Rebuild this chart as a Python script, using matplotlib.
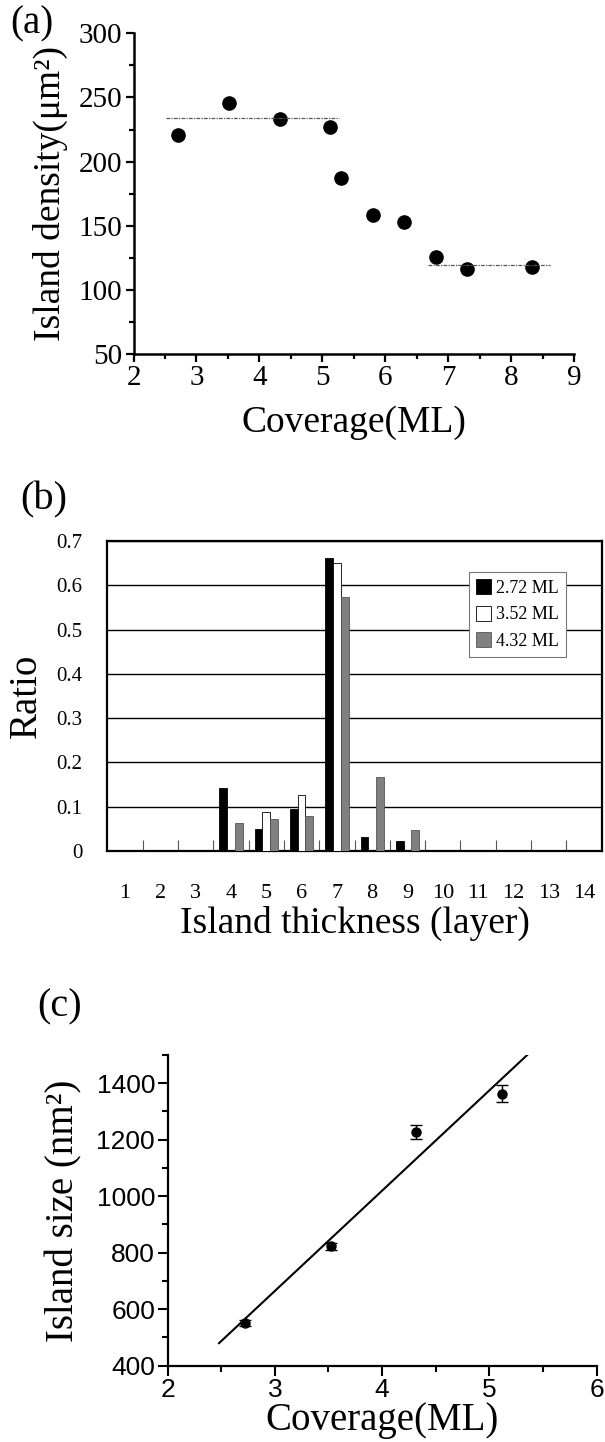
import numpy as np
import matplotlib
matplotlib.use('Agg')
import matplotlib.pyplot as plt
from matplotlib.ticker import MultipleLocator, FixedLocator

plt.rcParams['font.family'] = ['Liberation Serif', 'DejaVu Serif']
plt.rcParams['mathtext.fontset'] = 'stix'

# (a) mật độ đảo theo độ phủ
cov_a = [2.71, 3.52, 4.33, 5.12, 5.30, 5.81, 6.30, 6.80, 7.30, 8.32]
density_a = [221, 246, 233, 227, 187, 158, 153, 126, 116, 118]
plateau_hi_x = [2.52, 5.27]
plateau_hi_y = 234
plateau_lo_x = [6.67, 8.61]
plateau_lo_y = 119

# (b) phân bố độ dày đảo
layers = list(range(1, 15))
series_names = ['2.72 ML', '3.52 ML', '4.32 ML']
ratio_272 = [0, 0, 0, 0.142, 0.050, 0.094, 0.661, 0.031, 0.023, 0, 0, 0, 0, 0]
ratio_352 = [0, 0, 0, 0, 0.087, 0.126, 0.650, 0, 0, 0, 0, 0, 0, 0]
ratio_432 = [0, 0, 0, 0.062, 0.072, 0.078, 0.573, 0.167, 0.048, 0, 0, 0, 0, 0]

# (c) kích thước đảo
cov_c = [2.72, 3.52, 4.32, 5.12]
size_c = [551, 823, 1228, 1363]
size_err = [12, 13, 25, 29]
fit_range = [2.48, 5.36]

fig = plt.figure(figsize=(6.05, 14.42), dpi=100)

# ---------- (a) ----------
ax1 = fig.add_axes([0.2207, 0.7545, 0.7286, 0.2224])
ax1.plot(cov_a, density_a, 'o', color='black', markersize=9.5)
ax1.plot(plateau_hi_x, [plateau_hi_y] * 2, color='#555555', lw=0.9, linestyle=(0, (3, 1, 1, 1)))
ax1.plot(plateau_lo_x, [plateau_lo_y] * 2, color='#555555', lw=0.9, linestyle=(0, (3, 1, 1, 1)))
ax1.set_xlim(2, 9)
ax1.set_ylim(50, 300)
ax1.xaxis.set_major_locator(MultipleLocator(1))
ax1.xaxis.set_minor_locator(MultipleLocator(0.5))
ax1.yaxis.set_major_locator(MultipleLocator(50))
ax1.yaxis.set_minor_locator(MultipleLocator(25))
for s in ['top', 'right']:
    ax1.spines[s].set_visible(False)
for s in ['left', 'bottom']:
    ax1.spines[s].set_linewidth(1.8)
ax1.tick_params(which='major', direction='out', length=6, width=1.6, labelsize=21, pad=2)
ax1.tick_params(which='minor', direction='out', length=3.5, width=1.6)
ax1.set_xlabel('Coverage(ML)', fontsize=27, labelpad=10)
ax1.set_ylabel('Island density(μm²)', fontsize=27, labelpad=8)

# ---------- (b) ----------
ax2 = fig.add_axes([0.1774, 0.41, 0.8172, 0.2148])
x = np.arange(len(layers))
w = 0.22
ax2.bar(x - w, ratio_272, w, color='black', edgecolor='black', lw=0.6, label=series_names[0], zorder=3)
ax2.bar(x, ratio_352, w, color='white', edgecolor='black', lw=0.6, label=series_names[1], zorder=3)
ax2.bar(x + w, ratio_432, w, color='#808080', edgecolor='#555555', lw=0.6, label=series_names[2], zorder=3)
ax2.set_xlim(-0.5, len(layers) - 0.5)
ax2.set_ylim(0, 0.7)
ax2.yaxis.grid(True, color='black', lw=1.0)
ax2.set_axisbelow(True)
ax2.set_xticks(x)
ax2.set_xticklabels([str(v) for v in layers])
ax2.xaxis.set_minor_locator(FixedLocator(np.arange(0.5, len(layers) - 1, 1.0)))
ax2.set_yticks(np.arange(0, 0.71, 0.1))
ax2.set_yticklabels(['0'] + ['%.1f' % v for v in np.arange(0.1, 0.71, 0.1)])
for s in ax2.spines.values():
    s.set_linewidth(1.6)
ax2.tick_params(axis='x', which='major', length=0, labelsize=16, pad=24)
ax2.tick_params(axis='x', which='minor', direction='in', length=8, width=0.8, color='#555555')
ax2.tick_params(axis='y', length=0, labelsize=15, pad=18)
ax2.set_xlabel('Island thickness (layer)', fontsize=27, labelpad=2)
ax2.set_ylabel('Ratio', fontsize=28, labelpad=8)
leg = ax2.legend(loc='upper right', bbox_to_anchor=(0.9284, 0.9009), borderaxespad=0,
                 fontsize=13, handlelength=0.8, handleheight=0.9, handletextpad=0.3,
                 labelspacing=0.5, fancybox=False, framealpha=1, edgecolor='#777777',
                 borderpad=0.4)
leg.get_frame().set_linewidth(0.8)

# ---------- (c) ----------
ax3 = fig.add_axes([0.2769, 0.0529, 0.7094, 0.2155])
ax3.errorbar(cov_c, size_c, yerr=size_err, fmt='o', color='black', markersize=6.5,
             capsize=4.5, elinewidth=1, capthick=1)
slope, intercept = np.polyfit(cov_c, size_c, 1)
fx = np.array(fit_range)
ax3.plot(fx, slope * fx + intercept, color='black', lw=1.5)
ax3.set_xlim(2, 6)
ax3.set_ylim(400, 1500)
ax3.xaxis.set_major_locator(MultipleLocator(1))
ax3.xaxis.set_minor_locator(MultipleLocator(0.5))
ax3.yaxis.set_major_locator(MultipleLocator(200))
ax3.yaxis.set_minor_locator(MultipleLocator(100))
for s in ['top', 'right']:
    ax3.spines[s].set_visible(False)
for s in ['left', 'bottom']:
    ax3.spines[s].set_linewidth(1.6)
ax3.tick_params(which='major', direction='out', length=7, width=1.5, labelsize=19, pad=2)
ax3.tick_params(which='minor', direction='out', length=4, width=1.5)
for lab in ax3.get_xticklabels() + ax3.get_yticklabels():
    lab.set_family(['Liberation Sans', 'DejaVu Sans'])
ax3.set_xlabel('Coverage(ML)', fontsize=28, labelpad=0)
ax3.set_ylabel('Island size (nm²)', fontsize=28, labelpad=10)

# nhãn các panel
fig.text(10 / 605, 1 - 24 / 1442, '(a)', fontsize=28, va='center', ha='left')
fig.text(20 / 605, 1 - 500 / 1442, '(b)', fontsize=29, va='center', ha='left')
fig.text(37 / 605, 1 - 1007 / 1442, '(c)', fontsize=29, va='center', ha='left')

fig.savefig('out.png', dpi=100)
